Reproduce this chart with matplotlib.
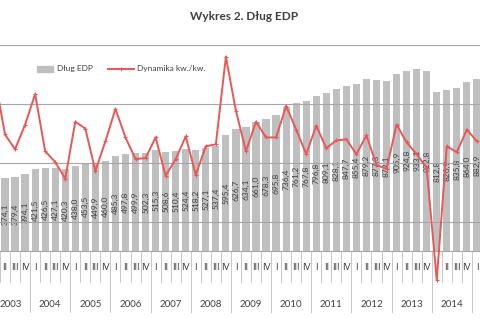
import numpy as np
import matplotlib.pyplot as plt
from matplotlib.patches import Rectangle
from matplotlib.lines import Line2D

plt.rcParams['font.family'] = ['Lato', 'DejaVu Sans']

# quarters 2003 I .. 2015 I (2003 I lies just outside the visible area)
quarters = ['I', 'II', 'III', 'IV'] * 12 + ['I']
years = ['2003', '2004', '2005', '2006', '2007', '2008',
         '2009', '2010', '2011', '2012', '2013', '2014']

# Dlug EDP, mld zl
debt = [363.6, 374.1, 379.4, 394.1,
        421.5, 426.5, 427.1, 420.3,
        438.0, 453.5, 449.9, 460.0,
        485.3, 497.8, 499.9, 502.3,
        515.3, 508.6, 510.4, 524.4,
        518.2, 527.1, 537.4, 595.4,
        626.7, 634.1, 661.0, 678.3,
        695.8, 736.4, 761.2, 767.8,
        796.8, 809.1, 828.1, 847.7,
        855.4, 879.2, 877.3, 872.1,
        905.9, 924.8, 933.1, 922.8,
        812.8, 826.9, 835.8, 864.0,
        882.9]

# dynamika kw./kw., %
dyn = [8.6, 2.9, 1.4, 3.9,
       7.0, 1.2, 0.1, -1.6,
       4.2, 3.5, -0.8, 2.2,
       5.5, 2.6, 0.4, 0.5,
       2.6, -1.3, 0.4, 2.7,
       -1.2, 1.7, 1.9, 10.8,
       5.3, 1.2, 4.2, 2.6,
       2.6, 5.8, 3.4, 0.9,
       3.8, 1.5, 2.3, 2.4,
       0.9, 2.8, -0.2, -0.6,
       3.9, 2.1, 0.9, -0.5,
       -11.9, 1.7, 1.1, 3.4,
       2.2]

bar_col = '#BFBFBF'
red = '#EC5656'
txt = '#404040'
grid_col = '#A6A6A6'

W, H = 480, 320
fig = plt.figure(figsize=(4.8, 3.2), dpi=100)
ax = fig.add_axes([0, 69 / H, 1, 206 / H])
x = np.arange(len(debt))

ax.bar(x, debt, width=0.72, color=bar_col, zorder=1)
# first quarter is off-canvas, so its labels are skipped
for xi, v in zip(x[1:], debt[1:]):
    ax.text(xi, v / 2, ('%.1f' % v).replace('.', ','), rotation=90,
            ha='center', va='center', fontsize=6, color=txt, zorder=3)
ax.set_xlim(0.502, 48.31)
ax.set_ylim(0, 1056)
ax.set_yticks([])
ax.set_xticks([])
for s in ['top', 'left', 'right']:
    ax.spines[s].set_visible(False)
ax.spines['bottom'].set_color(grid_col)
ax.spines['bottom'].set_linewidth(0.8)

ax2 = ax.twinx()
ax2.set_ylim(-8.95, 12)
for t in [-6, 0, 6, 12]:
    ax2.axhline(t, color=grid_col, lw=0.8, zorder=0)
ax2.plot(x, dyn, color=red, lw=1.4, marker='+', ms=3, mew=0.8,
         clip_on=False, zorder=5)
ax2.set_yticks([])
ax2.set_xticks([])
for s in ax2.spines.values():
    s.set_visible(False)

# category axis: quarters and years
trans = ax.get_xaxis_transform()
for i, q in enumerate(quarters):
    if i == 0:
        continue
    ax.text(i, -0.0825, q, ha='center', va='center', fontsize=6.5,
            color=txt, transform=trans, clip_on=False)
for i in range(len(quarters) - 1):
    low = -0.296 if quarters[i] == 'IV' else -0.15
    ax.plot([i + 0.5, i + 0.5], [0, low], transform=trans, color=bar_col,
            lw=0.6, clip_on=False)
for k, yr in enumerate(years):
    ax.text(max(4 * k + 1.5, 1.6), -0.262, yr, ha='center', va='center',
            fontsize=7, color=txt, transform=trans, clip_on=False)

# title
fig.text(244 / W, 1 - 17 / H, 'Wykres 2. Dług EDP', ha='center', va='center',
         fontsize=8.5, fontweight='bold', color=txt)

# legend
ly = 1 - 69 / H
fig.add_artist(Rectangle((37 / W, ly - 3 / H), 16 / W, 6 / H,
                         transform=fig.transFigure, color=bar_col))
fig.text(57 / W, ly, 'Dług EDP', ha='left', va='center', fontsize=6, color=txt)
fig.add_artist(Line2D([108 / W, 134 / W], [ly, ly], transform=fig.transFigure,
                      color=red, lw=1.4))
fig.add_artist(Line2D([121 / W], [ly], transform=fig.transFigure, color=red,
                      marker='+', ms=3, mew=0.8))
fig.text(137 / W, ly, 'Dynamika kw./kw.', ha='left', va='center', fontsize=6,
         color=txt)

fig.savefig('out.png', dpi=100)
